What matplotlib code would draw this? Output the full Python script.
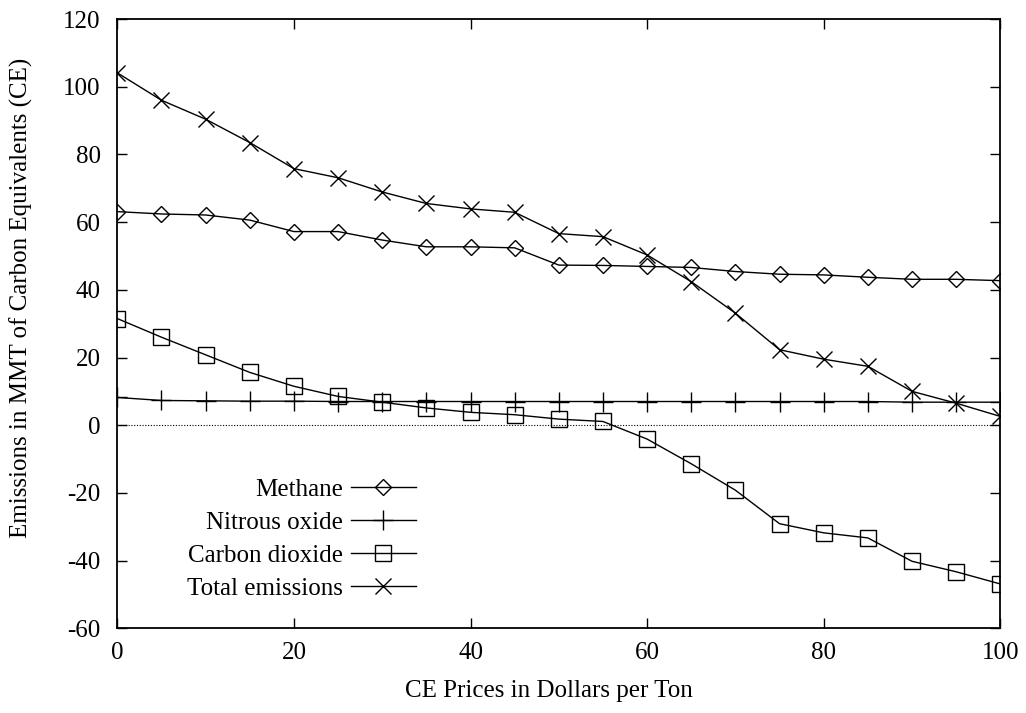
import matplotlib
matplotlib.use("Agg")
import matplotlib.pyplot as plt

prices = [0, 5, 10, 15, 20, 25, 30, 35, 40, 45, 50, 55, 60, 65, 70, 75, 80, 85, 90, 95, 100]
methane = [63.1, 62.4, 62.1, 60.6, 57.2, 57.2, 54.7, 52.7, 52.7, 52.4, 47.3, 47.2, 46.9, 46.6,
           45.4, 44.6, 44.4, 43.7, 43.1, 43.1, 42.7]
nitrous = [8.2, 7.3, 7.2, 7.1, 7.1, 7.0, 7.0, 7.0, 7.0, 7.0, 7.0, 7.0, 7.0, 7.0,
           7.0, 7.0, 7.0, 7.0, 6.8, 6.8, 6.8]
co2 = [31.5, 26.0, 20.8, 15.6, 11.5, 8.5, 6.8, 5.1, 3.8, 3.1, 1.8, 1.1, -4.1, -11.4,
       -19.2, -29.1, -31.8, -33.3, -40.2, -43.3, -46.9]
total = [104.1, 96.0, 90.4, 83.5, 75.8, 73.1, 68.9, 65.5, 63.9, 62.9, 56.6, 55.7, 50.3, 42.4,
         33.1, 22.3, 19.5, 17.4, 10.0, 6.5, 2.6]
labels = ["Methane", "Nitrous oxide", "Carbon dioxide", "Total emissions"]
xticks = [0, 20, 40, 60, 80, 100]
yticks = [-60, -40, -20, 0, 20, 40, 60, 80, 100, 120]

plt.rcParams['font.family'] = ['Liberation Serif', 'DejaVu Serif']
plt.rcParams['font.size'] = 18

fig = plt.figure(figsize=(10.26, 7.13), dpi=100)
ax = fig.add_axes([117.3 / 1026, 1 - 628.3 / 713, (1000.3 - 117.3) / 1026, (628.3 - 19) / 713])

ax.plot([prices[0], prices[-1]], [0, 0], color='black', lw=0.8, ls=(0, (1, 1.5)))

lw = 1.0
ax.plot(prices, methane, color='black', lw=lw, marker='D', ms=8, mfc='none', mew=1.0, label=labels[0])
ax.plot(prices, nitrous, color='black', lw=lw, marker='+', ms=15, mew=1.0, label=labels[1])
ax.plot(prices, co2, color='black', lw=lw, marker='s', ms=11, mfc='none', mew=1.0, label=labels[2])
ax.plot(prices, total, color='black', lw=lw, marker='x', ms=12, mew=1.0, label=labels[3])

ax.set_xlim(0, 100)
ax.set_ylim(-60, 120)
ax.set_xticks(xticks)
ax.set_yticks(yticks)
ax.set_yticklabels([str(v) for v in yticks])
ax.tick_params(direction='in', length=7, width=1, top=True, right=True)
ax.tick_params(axis='x', pad=10)
ax.tick_params(axis='y', pad=12)
for s in ax.spines.values():
    s.set_linewidth(1.3)

ax.set_xlabel("CE Prices in Dollars per Ton")
ax.xaxis.set_label_coords(0.489, -0.085)
ax.set_ylabel("Emissions in MMT of Carbon Equivalents (CE)")
ax.yaxis.set_label_coords(-0.096, 0.542)

leg = ax.legend(loc='lower right', bbox_to_anchor=(0.338, 0.047), markerfirst=False, frameon=False,
                borderpad=0, borderaxespad=0, handlelength=2.6, handletextpad=0.3, labelspacing=0.42)

fig.savefig("out.png", dpi=100)
